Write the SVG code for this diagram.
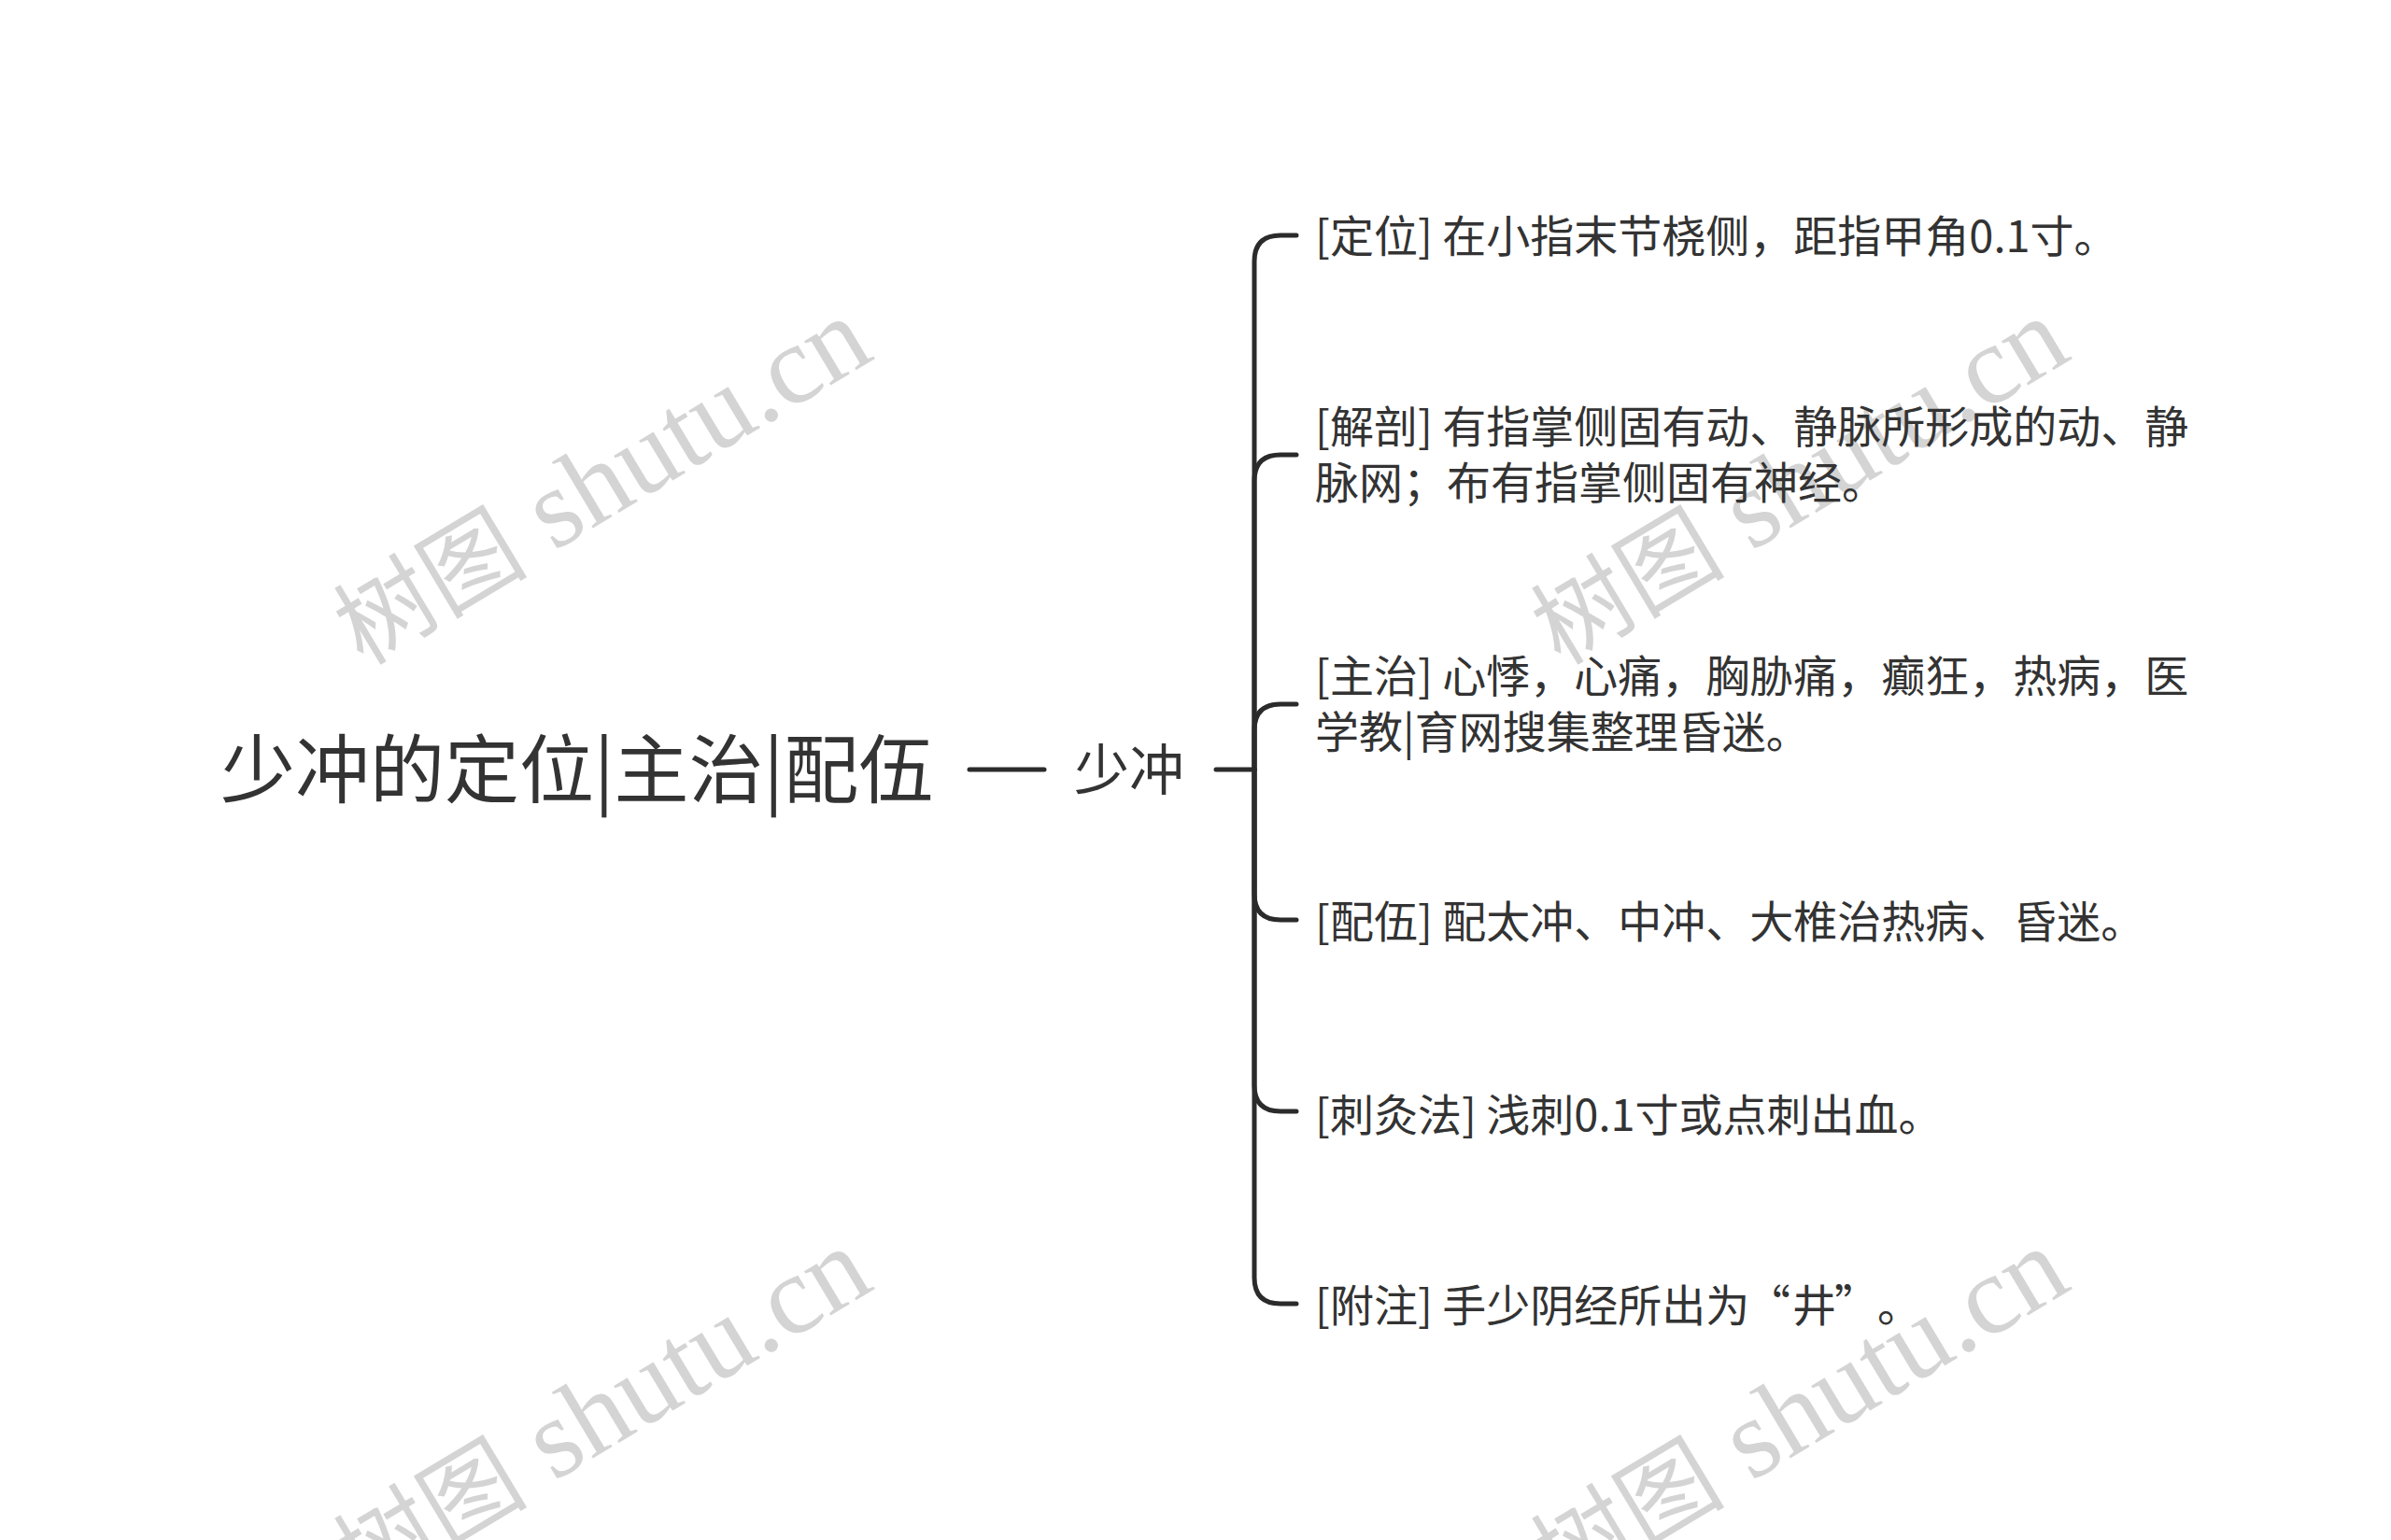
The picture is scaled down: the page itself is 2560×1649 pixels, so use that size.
<svg xmlns="http://www.w3.org/2000/svg" width="2560" height="1649" viewBox="0 0 2560 1649">
<style>
.wm{font-family:"Liberation Serif","Noto Sans CJK SC",serif;font-size:120px;fill:#d4d4d4}
.wmc{font-size:104px}
.root{font-family:"Noto Sans CJK SC",sans-serif;font-size:80px;fill:#333333}
.mid{font-family:"Noto Sans CJK SC",sans-serif;font-size:59px;fill:#333333}
.leaf{font-family:"Noto Sans CJK SC",sans-serif;font-size:47px;fill:#333333}
.ln{fill:none;stroke:#2b2b2b;stroke-width:5;stroke-linecap:round;stroke-linejoin:round}
</style>
<rect width="2560" height="1649" fill="#ffffff"/>
<g id="watermarks">
<text class="wm" x="643" y="554" text-anchor="middle" transform="rotate(-31 643 514)"><tspan class="wmc">树图</tspan> shutu.cn</text>
<text class="wm" x="1925" y="554" text-anchor="middle" transform="rotate(-31 1925 514)"><tspan class="wmc">树图</tspan> shutu.cn</text>
<text class="wm" x="643" y="1550" text-anchor="middle" transform="rotate(-31 643 1510)"><tspan class="wmc">树图</tspan> shutu.cn</text>
<text class="wm" x="1925" y="1550" text-anchor="middle" transform="rotate(-31 1925 1510)"><tspan class="wmc">树图</tspan> shutu.cn</text>
</g>
<g id="connectors">
<path class="ln" d="M1038,824 H1118"/>
<path class="ln" d="M1302,824 H1343"/>
<path class="ln" d="M1343,824 V280 Q1343,252 1371,252 H1388"/>
<path class="ln" d="M1343,824 V515 Q1343,487 1371,487 H1388"/>
<path class="ln" d="M1343,824 V782 Q1343,754 1371,754 H1388"/>
<path class="ln" d="M1343,824 V957 Q1343,985 1371,985 H1388"/>
<path class="ln" d="M1343,824 V1162 Q1343,1190 1371,1190 H1388"/>
<path class="ln" d="M1343,824 V1368 Q1343,1396 1371,1396 H1388"/>
</g>
<g id="root"><text class="root" x="236" y="853">少冲的定位|主治|配伍</text></g>
<g id="shaochong"><text class="mid" x="1150" y="846">少冲</text></g>
<g id="n1"><text class="leaf" x="1408" y="270">[定位] 在小指末节桡侧，距指甲角0.1寸。</text></g>
<g id="n2"><text class="leaf" x="1408" y="474">[解剖] 有指掌侧固有动、静脉所形成的动、静</text><text class="leaf" x="1408" y="534">脉网；布有指掌侧固有神经。</text></g>
<g id="n3"><text class="leaf" x="1408" y="741">[主治] 心悸，心痛，胸胁痛，癫狂，热病，医</text><text class="leaf" x="1408" y="801">学教|育网搜集整理昏迷。</text></g>
<g id="n4"><text class="leaf" x="1408" y="1004">[配伍] 配太冲、中冲、大椎治热病、昏迷。</text></g>
<g id="n5"><text class="leaf" x="1408" y="1211">[刺灸法] 浅刺0.1寸或点刺出血。</text></g>
<g id="n6"><text class="leaf" x="1408" y="1415">[附注] 手少阴经所出为<tspan x="1870">“</tspan><tspan x="1919">井</tspan><tspan x="1964">”</tspan><tspan x="2010">。</tspan></text></g>
</svg>
